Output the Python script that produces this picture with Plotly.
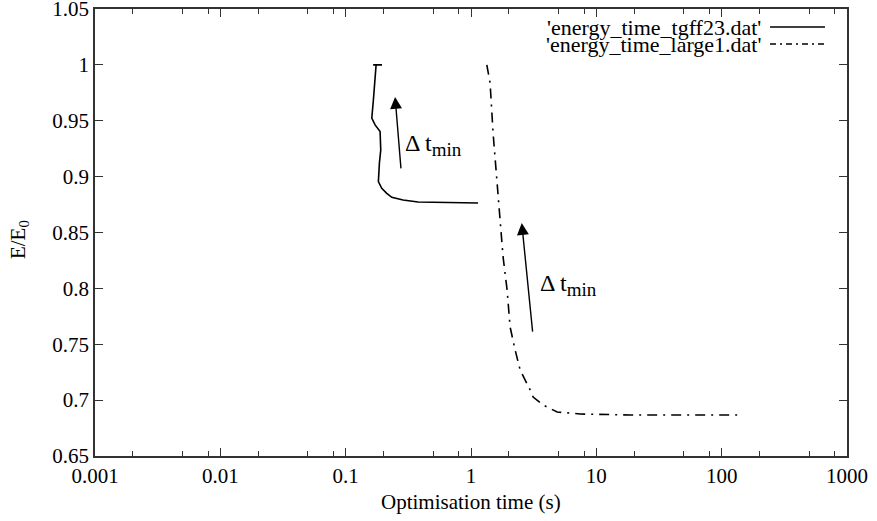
import numpy as np
import plotly.graph_objects as go

# ---- data ----
tgff_t = [0.1656, 0.195, 0.1749, 0.1664, 0.1616, 0.1717, 0.1882, 0.1905, 0.1858, 0.1824, 0.194, 0.2128, 0.2333, 0.2871, 0.378, 1.139]
tgff_e = [1.0, 1.0, 1.0, 0.9686, 0.9523, 0.9463, 0.9403, 0.9239, 0.912, 0.8955, 0.8896, 0.8851, 0.8815, 0.8791, 0.8773, 0.8764]

large_t = [1.337, 1.42, 1.50, 1.615, 1.706, 1.803, 1.941, 2.051, 2.249, 2.466, 2.965, 3.133, 3.76, 4.87, 7.43, 18.6, 140.5]
large_e = [1.0, 0.9838, 0.9391, 0.8944, 0.864, 0.8281, 0.7986, 0.7655, 0.7449, 0.727, 0.7091, 0.7028, 0.6956, 0.6894, 0.6876, 0.6867, 0.6867]

series_names = ["'energy_time_tgff23.dat'", "'energy_time_large1.dat'"]

x_ticks = [0.001, 0.01, 0.1, 1, 10, 100, 1000]
x_ticktext = ["0.001", "0.01", "0.1", "1", "10", "100", "1000"]
x_minor = [m * 10.0 ** k for k in range(-3, 3) for m in (2, 5, 8)]
y_ticks = [0.65, 0.7, 0.75, 0.8, 0.85, 0.9, 0.95, 1.0, 1.05]
y_ticktext = ["0.65", "0.7", "0.75", "0.8", "0.85", "0.9", "0.95", "1", "1.05"]

# arrows: tail and head positions, label positions
arrow_tail_t = [0.2767, 3.11]
arrow_tail_e = [0.906, 0.760]
arrow_head_t = [0.2479, 2.54]
arrow_head_e = [0.9713, 0.8585]
label_t = [0.287, 3.43]
label_e = [0.928, 0.803]

SERIF = "Liberation Serif, Times New Roman, serif"
FS = 21

fig = go.Figure()
fig.add_trace(go.Scatter(x=tgff_t, y=tgff_e, mode="lines", name=series_names[0],
                         line=dict(color="black", width=1.6), showlegend=False))
fig.add_trace(go.Scatter(x=large_t, y=large_e, mode="lines", name=series_names[1],
                         line=dict(color="black", width=1.6, dash="10px,6px,2px,6px"),
                         showlegend=False))

for i in range(2):
    fig.add_annotation(x=np.log10(arrow_head_t[i]), y=arrow_head_e[i],
                       ax=np.log10(arrow_tail_t[i]), ay=arrow_tail_e[i],
                       xref="x", yref="y", axref="x", ayref="y",
                       text="", showarrow=True, arrowhead=2, arrowsize=1.7,
                       arrowwidth=1.4, arrowcolor="black")
    fig.add_annotation(x=np.log10(label_t[i]), y=label_e[i], xref="x", yref="y",
                       text="\u0394 t<sub><span style='font-size:19px'>min</span></sub>",
                       showarrow=False, xanchor="left", yanchor="middle",
                       font=dict(family=SERIF, size=24, color="black"))

# legend drawn gnuplot-style (text right, sample line on the right)
leg_y = [0.9597, 0.9217]
leg_dash = ["solid", "6px,4px,2px,4px"]
for i in range(2):
    fig.add_annotation(x=0.888, y=leg_y[i], xref="paper", yref="paper",
                       text=series_names[i], showarrow=False,
                       xanchor="right", yanchor="middle",
                       font=dict(family=SERIF, size=22, color="black"))
    fig.add_shape(type="line", xref="paper", yref="paper",
                  x0=0.8976, x1=0.9707, y0=leg_y[i], y1=leg_y[i],
                  line=dict(color="black", width=1.4, dash=leg_dash[i]))

# axis titles
fig.add_annotation(x=0.5, y=0, xref="paper", yref="paper", yshift=-46,
                   text="Optimisation time (s)", showarrow=False,
                   xanchor="center", yanchor="middle",
                   font=dict(family=SERIF, size=FS, color="black"))
fig.add_annotation(x=0, y=0.483, xref="paper", yref="paper", xshift=-76,
                   text="E/E<sub>0</sub>", showarrow=False, textangle=-90,
                   xanchor="center", yanchor="middle",
                   font=dict(family=SERIF, size=FS, color="black"))

axis_common = dict(showline=True, linecolor="#333", linewidth=1.5, mirror="allticks",
                   ticks="inside", ticklen=8, tickwidth=1.3, tickcolor="#333",
                   showgrid=False, zeroline=False, automargin=False,
                   ticklabeloverflow="allow",
                   tickfont=dict(family=SERIF, size=FS, color="black"))

fig.update_xaxes(type="log", range=[-3, 3], tickvals=x_ticks, ticktext=x_ticktext,
                 minor=dict(tickvals=x_minor, ticks="inside", ticklen=5, tickcolor="#333", tickwidth=1.2),
                 **axis_common)
fig.update_yaxes(range=[0.65, 1.05], tickvals=y_ticks, ticktext=y_ticktext,
                 **axis_common)

fig.update_layout(width=877, height=521, plot_bgcolor="white", paper_bgcolor="white",
                  margin=dict(l=95, r=30, t=9, b=65), showlegend=False)

fig.write_html("out.html", config={"displayModeBar": False},
               post_script="document.body.style.margin='0px';document.body.style.overflow='hidden';")
